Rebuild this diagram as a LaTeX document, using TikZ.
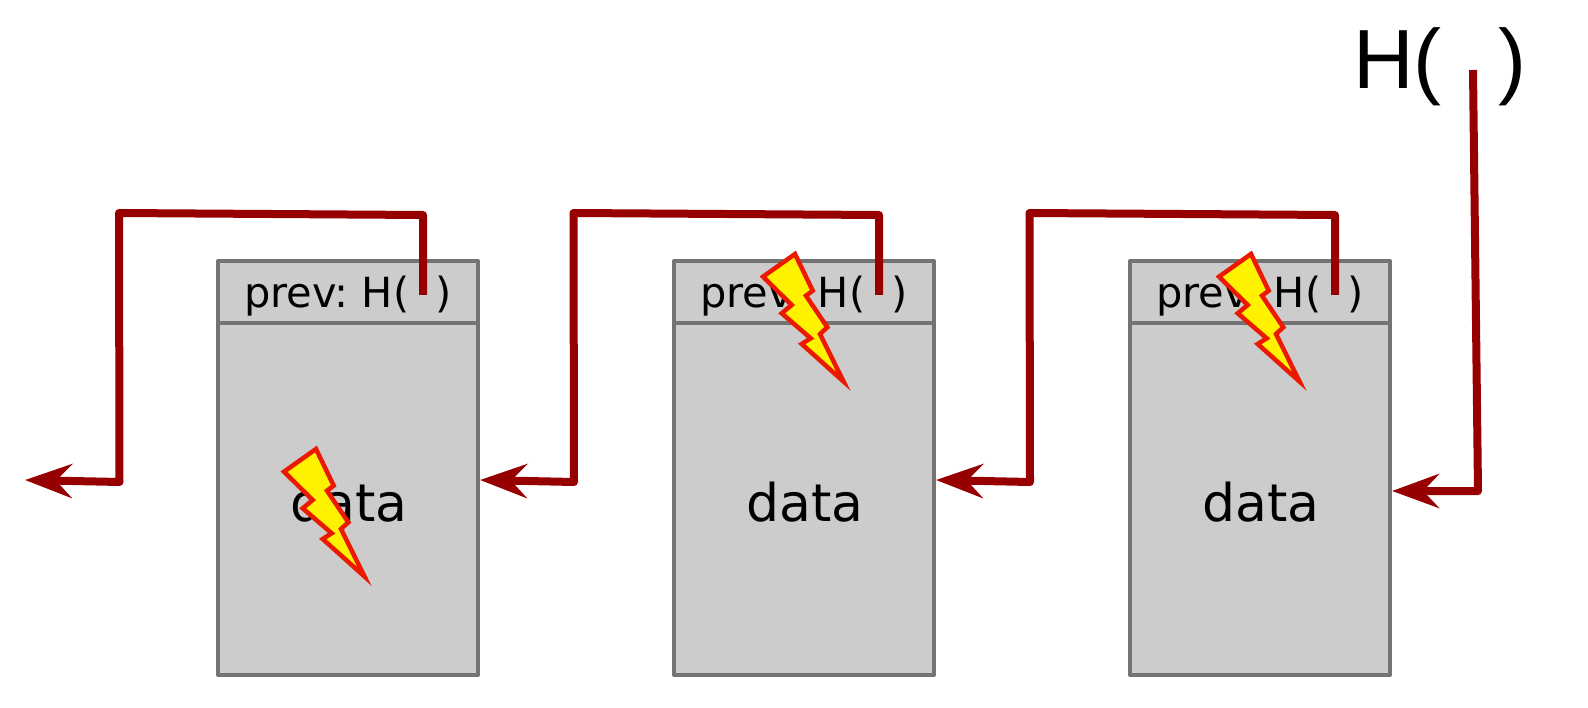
\documentclass[tikz,border=0pt]{standalone}
\usepackage{fontspec}
\setmainfont{DejaVu Sans}
\newfontfamily\bigfont{Liberation Sans}
\usetikzlibrary{arrows.meta,calc}
\definecolor{linkred}{RGB}{150,0,0}
\definecolor{boxgray}{RGB}{204,204,204}
\definecolor{edgegray}{RGB}{115,115,115}
\definecolor{boltred}{RGB}{235,25,0}
\tikzset{
  x=1pt,y=-1pt,
  blockpart/.style={draw=edgegray,fill=boxgray,line width=4pt,minimum width=260pt,inner sep=0pt,outer sep=0pt,anchor=north west,line join=round},
  headtext/.style={font=\fontsize{41.5}{42}\selectfont,text=black,inner sep=0pt,anchor=base},
  datatext/.style={font=\fontsize{52}{52}\selectfont,text=black,inner sep=0pt,anchor=base},
  hashtext/.style={font=\bigfont\fontsize{84}{84}\selectfont,text=black,inner sep=0pt,anchor=base west},
  link/.style={draw=linkred,line width=8pt,line join=round,
    -{Stealth[length=47pt,width=34pt,inset=16pt]}},
  bolt/.style={draw=boltred,fill=yellow,line width=4.5pt,line join=miter,miter limit=10},
}
\newcommand{\boltat}[2]{%
  \draw[bolt,shift={(#1,#2)}] (795,254)--(812.7,290.7)--(806,295.7)--(827.3,327.3)--(820,334)--(843.5,381.5)--(801.7,344)--(810.7,338.3)--(781.7,313.3)--(791.7,305)--(763,276.7)--cycle;}
\begin{document}
\begin{tikzpicture}
\useasboundingbox (0,0) rectangle (1588,708);
\foreach \n/\xx/\ox in {1/218/119,2/674/573.5,3/1130/1029.5}{
  \node[blockpart,minimum height=62pt] (head\n) at (\xx,261) {};
  \node[blockpart,minimum height=352pt] (body\n) at (\xx,323) {};
  \node[headtext] (prev\n) at ($(\xx,0)+(130,308)$) {prev:\hspace{-4pt} H(\hspace{26.5pt})};
  \node[datatext] (data\n) at ($(\xx,0)+(131,521)$) {data};
  \coordinate (hook\n) at ($(\xx,0)+(205,295)$);
  \coordinate (up\n) at ($(\xx,0)+(205,215)$);
  \coordinate (over\n) at (\ox,213);
  \coordinate (down\n) at (\ox+0.5,482);
  \coordinate (in\n) at ($(\xx,0)+(262,480)$);
}
\coordinate (out) at (25,480);
\node[hashtext] (hash) at (1353,89) {H(\hspace{57pt})};
\coordinate (start) at (1473,70);
\coordinate (turn) at (1478,491);
\coordinate (inlast) at (1392,491);
\draw[link] (hook1)--(up1)--(over1)--(down1)--(out);
\draw[link] (hook2)--(up2)--(over2)--(down2)--(in1);
\draw[link] (hook3)--(up3)--(over3)--(down3)--(in2);
\draw[link] (start)--(turn)--(inlast);
\boltat{-479}{195}
\boltat{0}{0}
\boltat{456}{0}
\end{tikzpicture}
\end{document}
